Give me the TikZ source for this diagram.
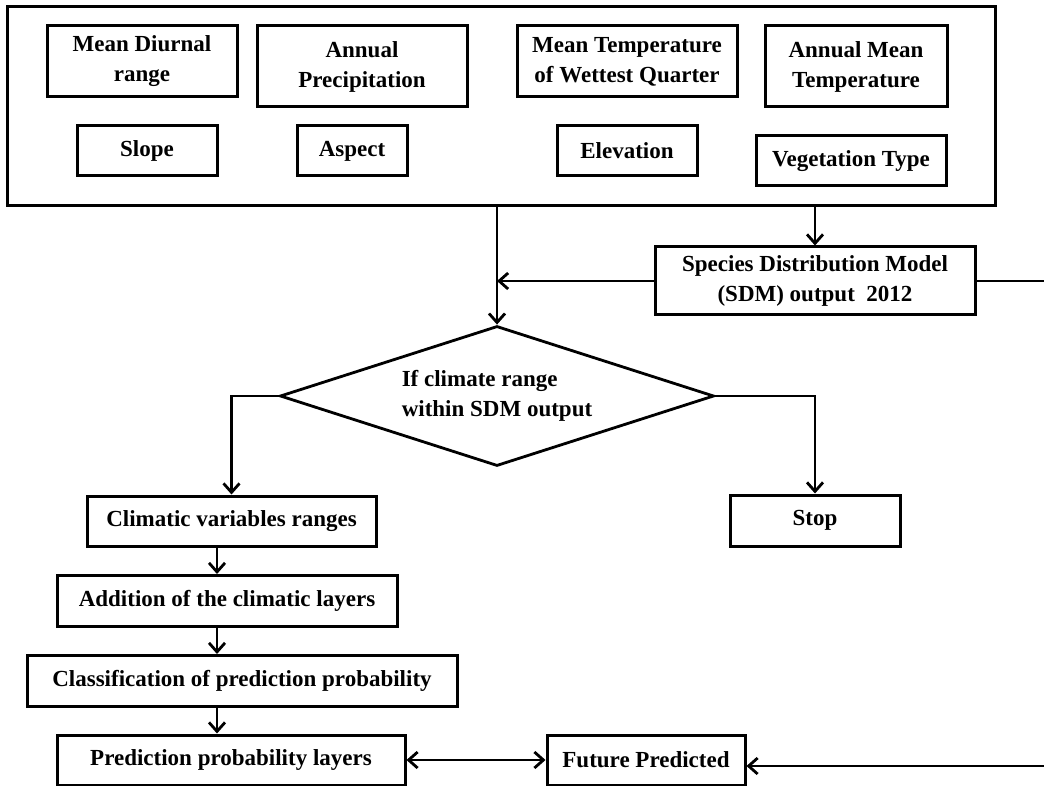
\documentclass[tikz,border=0pt]{standalone}
\usepackage{fontspec}
\setmainfont{Liberation Serif}
\usetikzlibrary{shapes.geometric,arrows.meta}

\tikzset{
  every node/.style={font=\bfseries\fontsize{23}{30}\selectfont, align=center, inner sep=0pt},
  box/.style={draw, line width=3pt, fill=white},
  decision/.style={draw, diamond, aspect=3.1, line width=2.8pt, align=left},
  link/.style={line width=2.8pt},
  tip/.style={Straight Barb[length=9pt,width=16pt,line width=2.8pt]},
  arr/.style={link, -{Straight Barb[length=9pt,width=16pt,line width=2.8pt]}},
  arr2/.style={link, {Straight Barb[length=9pt,width=16pt,line width=2.8pt]}-{Straight Barb[length=9pt,width=16pt,line width=2.8pt]}},
}

\begin{document}
\begin{tikzpicture}[x=1pt, y=-1pt]
\useasboundingbox (0,0) rectangle (1044,786);

% input layers frame
\node[box, minimum width=988pt, minimum height=199pt] (layers) at (501.5,106.5) {};

% climatic and terrain variables
\node[box, minimum width=190pt, minimum height=71pt] (mdr)  at (142,61.5)  {Mean Diurnal\\range};
\node[box, minimum width=210pt, minimum height=81pt] (ap)   at (362,66.5)  {Annual\\Precipitation};
\node[box, minimum width=220pt, minimum height=71pt] (mtwq) at (627,61.5)  {Mean Temperature\\of Wettest Quarter};
\node[box, minimum width=182pt, minimum height=81pt] (amt)  at (856,66.5)  {Annual Mean\\Temperature};
\node[box, minimum width=140pt, minimum height=50pt] (slope) at (147,151)  {Slope};
\node[box, minimum width=110pt, minimum height=50pt] (aspect) at (352,151) {Aspect};
\node[box, minimum width=140pt, minimum height=50pt] (elev) at (627,151)   {Elevation};
\node[box, minimum width=190pt, minimum height=50pt] (veg)  at (851,161)   {Vegetation Type};

% model output and decision
\node[box, minimum width=320pt, minimum height=68pt] (sdm) at (815,281) {Species Distribution Model\\(SDM) output\ \ 2012};
\node[decision, minimum width=434pt, minimum height=140pt] (dec) at (497,396) {If climate range\\within SDM output};

% processing chain
\node[box, minimum width=289pt, minimum height=50pt] (clim)  at (231.5,521) {Climatic variables ranges};
\node[box, minimum width=170pt, minimum height=51pt] (stop)  at (815,520.5) {Stop};
\node[box, minimum width=340pt, minimum height=51pt] (add)   at (227,601)   {Addition of the climatic layers};
\node[box, minimum width=430pt, minimum height=51pt] (class) at (242,681)   {Classification of prediction probability};
\node[box, minimum width=348pt, minimum height=50pt] (pred)  at (231,760)   {Prediction probability layers};
\node[box, minimum width=198pt, minimum height=50pt] (fut)   at (646,760)   {Future Predicted};

\coordinate (spine) at (217,0);
\coordinate (farright) at (1070,0);

% connectors
\draw[arr] (layers.south -| dec.north) -- (dec.north);
\draw[arr] (layers.south -| sdm.north) -- (sdm.north);
\draw[arr] (sdm.west) -- (sdm.west -| dec.north);
\draw[arr] (dec.west) -| (clim.north);
\draw[arr] (dec.east) -| (stop.north);
\draw[arr] (clim.south -| spine) -- (add.north -| spine);
\draw[arr] (add.south -| spine) -- (class.north -| spine);
\draw[arr] (class.south -| spine) -- (pred.north -| spine);
\draw[arr2] (pred.east) -- (fut.west);
\draw[arr] (sdm.east) -- (sdm.east -| farright) -- ([yshift=-6pt]fut.east -| farright) -- ([yshift=-6pt]fut.east);
\end{tikzpicture}
\end{document}
